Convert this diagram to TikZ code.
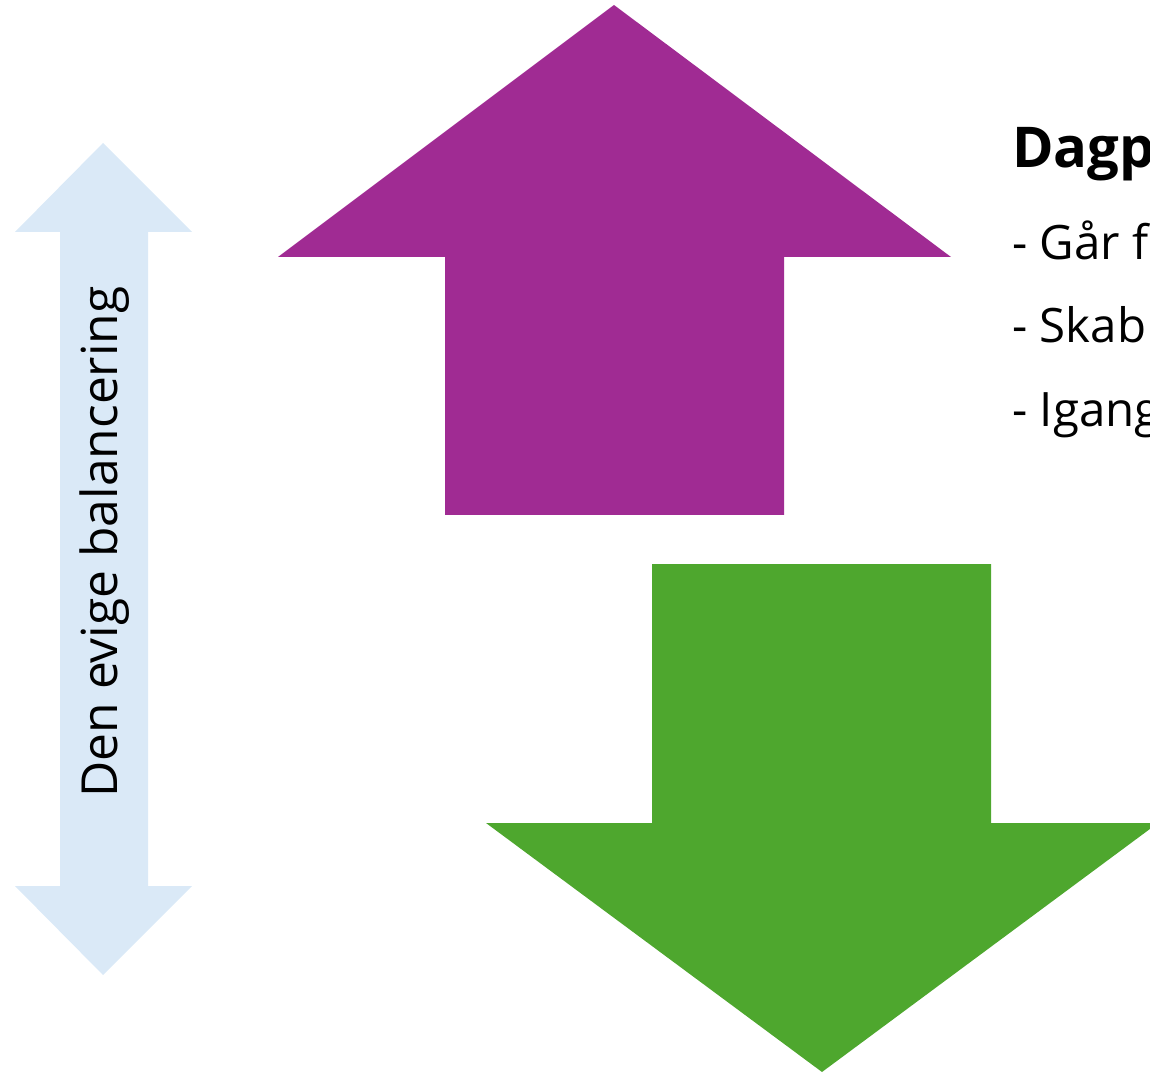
\documentclass[tikz,border=0pt]{standalone}
\usepackage{fontspec}
\setmainfont{Open Sans}
\usepackage{tikz}
\usetikzlibrary{positioning}

\definecolor{lilla}{HTML}{A02B93}
\definecolor{groen}{HTML}{4EA72E}
\definecolor{lyseblaa}{HTML}{DAE9F7}

\begin{document}
\begin{tikzpicture}[x=0.02cm, y=-0.02cm,
  pil/.style={draw=none},
  punkt/.style={anchor=base west, inner sep=0pt, font=\fontsize{27}{32}\selectfont}]
\useasboundingbox (0,0) rectangle (1150,1074);
\clip (0,0) rectangle (1150,1074);

% dobbeltpil til venstre
\fill [lyseblaa, pil] (103,143) -- (192,232) -- (148,232) -- (148,886) -- (192,886) -- (103,975) -- (15,886) -- (60,886) -- (60,232) -- (15,232) -- cycle;
\node [rotate=90, font=\fontsize{28.3}{32}\selectfont] (balance) at (105,542) {Den evige balancering};

% pil op
\fill [lilla, pil] (614,5) -- (951,257) -- (784,257) -- (784,515) -- (445,515) -- (445,257) -- (278,257) -- cycle;

% pil ned
\fill [groen, pil] (652,564) -- (991,564) -- (991,823) -- (1158,823) -- (822,1072) -- (486,823) -- (652,823) -- cycle;

\node [anchor=base west, inner sep=0pt, font=\bfseries\fontsize{32}{36}\selectfont] (titel) at (1012,168) {Dagp};
\node [punkt] (gaar) at (1012,260) {- Går f};
\node [punkt] (skab) at (1012,343) {- Skab};
\node [punkt] (igang) at (1012,427) {- Igang};
\end{tikzpicture}
\end{document}
